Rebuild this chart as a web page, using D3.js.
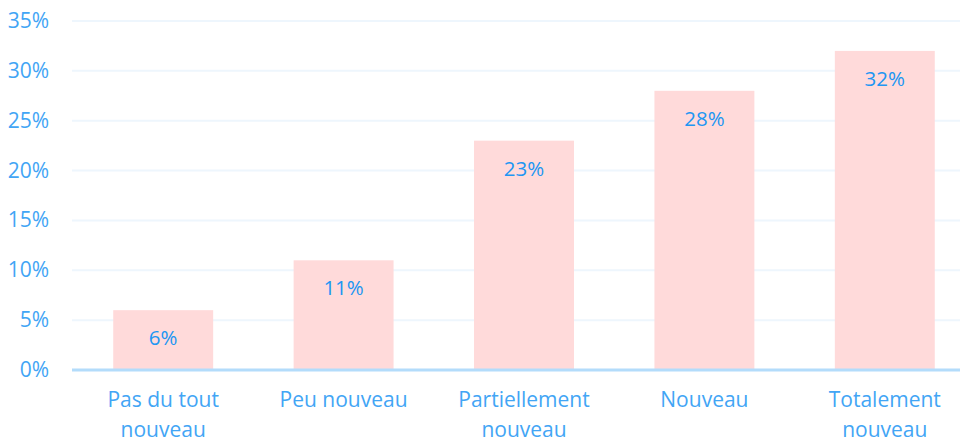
<!DOCTYPE html>
<html><head><meta charset="utf-8">
<script src="https://cdn.jsdelivr.net/npm/d3@7"></script>
<style>body{margin:0;background:#fff;} svg{display:block;font-family:"Open Sans",sans-serif;}</style>
</head><body><svg id="c" width="960" height="441"></svg>
<script>
const categories = [["Pas du tout","nouveau"],["Peu nouveau"],["Partiellement","nouveau"],["Nouveau"],["Totalement","nouveau"]];
const values = [6, 11, 23, 28, 32];
const yTicks = [0,5,10,15,20,25,30,35];

const svg = d3.select("#c");
const x = d3.scaleBand().domain(d3.range(categories.length)).range([73, 975]).paddingInner(0.446).paddingOuter(0.223);
const y = d3.scaleLinear().domain([0,35]).range([370, 21]);

svg.append("g").selectAll("line").data(yTicks.filter(d=>d>0)).join("line")
  .attr("x1",72).attr("x2",960).attr("y1",d=>y(d)).attr("y2",d=>y(d))
  .attr("stroke","#eef6fd").attr("stroke-width",2);

svg.append("g").selectAll("text").data(yTicks).join("text")
  .attr("x",49).attr("y",d=>y(d)+7).attr("text-anchor","end")
  .attr("fill","#42a5f5").attr("font-size",21).text(d=>d+"%");

svg.append("g").selectAll("rect").data(values).join("rect")
  .attr("x",(d,i)=>x(i)).attr("width",x.bandwidth())
  .attr("y",d=>y(d)).attr("height",d=>y(0)-y(d)).attr("fill","#ffdada");

svg.append("g").selectAll("text").data(values).join("text")
  .attr("x",(d,i)=>x(i)+x.bandwidth()/2).attr("y",d=>y(d)+35).attr("text-anchor","middle")
  .attr("fill","#2196f3").attr("font-size",20.5).text(d=>d+"%");

svg.append("line").attr("x1",72).attr("x2",960).attr("y1",y(0)).attr("y2",y(0))
  .attr("stroke","#b3dcfb").attr("stroke-width",3);

const xl = svg.append("g").selectAll("text").data(categories).join("text")
  .attr("x",(d,i)=>x(i)+x.bandwidth()/2).attr("y",407).attr("text-anchor","middle")
  .attr("fill","#42a5f5").attr("font-size",21);
xl.selectAll("tspan").data(d=>d).join("tspan")
  .attr("x",function(){return this.parentNode.getAttribute("x");})
  .attr("dy",(d,i)=>i===0?0:30).text(d=>d);
</script></body></html>
